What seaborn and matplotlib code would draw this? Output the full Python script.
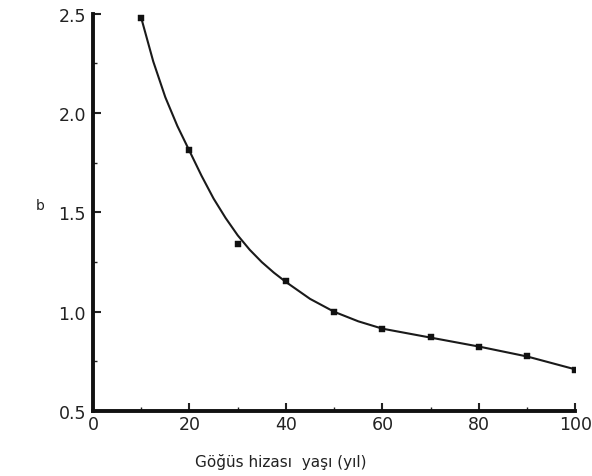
import numpy as np
import pandas as pd
import matplotlib
matplotlib.use("Agg")
import matplotlib.pyplot as plt
import seaborn as sns
from matplotlib.ticker import MultipleLocator

# --- data ---
yas = [10, 20, 30, 40, 50, 60, 70, 80, 90, 100]
b_olcum = [2.48, 1.815, 1.34, 1.157, 1.00, 0.913, 0.873, 0.822, 0.777, 0.707]

# fitted curve
egri_x = [10, 12.5, 15, 17.5, 20, 22.5, 25, 27.5, 30, 32.5, 35, 37.5, 40, 45, 50, 55, 60, 70, 80, 90, 100]
egri_b = [2.48, 2.26, 2.08, 1.935, 1.81, 1.685, 1.57, 1.472, 1.385, 1.312, 1.25, 1.197, 1.15, 1.065, 1.00, 0.952, 0.915, 0.87, 0.825, 0.775, 0.71]

x_ticks = [0, 20, 40, 60, 80, 100]
y_ticks = [0.5, 1.0, 1.5, 2.0, 2.5]

df_olcum = pd.DataFrame({"yas": yas, "b": b_olcum})
df_egri = pd.DataFrame({"yas": egri_x, "b": egri_b})

sns.set_style("ticks")
plt.rcParams['font.family'] = ['DejaVu Sans']

fig = plt.figure(figsize=(5.92, 4.77), dpi=100)
ax = fig.add_axes([0.157, 0.136, 0.815, 0.833])

sns.lineplot(data=df_egri, x="yas", y="b", ax=ax, color="#1a1a1a", linewidth=1.5)
sns.scatterplot(data=df_olcum, x="yas", y="b", ax=ax, marker="s", s=14,
                color="#111111", edgecolor="#111111", zorder=3)

ax.set_xlim(0, 100)
ax.set_ylim(0.5, 2.5)
ax.set_xticks(x_ticks)
ax.set_yticks(y_ticks)
ax.set_xticklabels([str(v) for v in x_ticks])
ax.set_yticklabels([f"{v:.1f}" for v in y_ticks])
ax.xaxis.set_minor_locator(MultipleLocator(10))
ax.yaxis.set_minor_locator(MultipleLocator(0.25))

ax.tick_params(axis="both", which="major", direction="in", length=6, width=1.5,
               labelsize=12.5, colors="#222222")
ax.tick_params(axis="y", which="major", pad=5)
ax.tick_params(axis="x", which="major", pad=3)
ax.tick_params(axis="both", which="minor", direction="in", length=3, width=1.0,
               colors="#222222")

sns.despine(ax=ax)
for side in ["left", "bottom"]:
    ax.spines[side].set_linewidth(2.8)
    ax.spines[side].set_color("#111111")

ax.set_xlabel("Göğüs hizası  yaşı (yıl)", fontsize=11, color="#222222")
ax.xaxis.set_label_coords(0.39, -0.105)
ax.set_ylabel("b", fontsize=10, rotation=0, color="#222222")
ax.yaxis.set_label_coords(-0.11, 0.5)

fig.savefig("out.png", dpi=100, facecolor="white")
